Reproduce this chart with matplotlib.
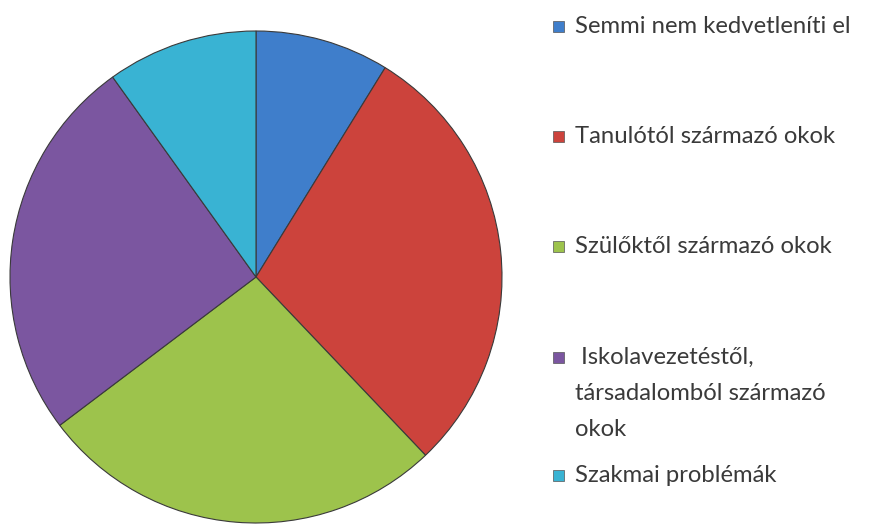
import matplotlib
matplotlib.use("Agg")
import matplotlib.pyplot as plt
from matplotlib.patches import Rectangle

categories = [
    "Semmi nem kedvetleníti el",
    "Tanulótól származó okok",
    "Szülőktől származó okok",
    " Iskolavezetéstől,\ntársadalomból származó\nokok",
    "Szakmai problémák",
]
values = [8.8, 29.1, 26.8, 25.4, 9.9]
colors = ["#3F7ECB", "#CC433C", "#9DC34C", "#7B56A0", "#39B3D3"]

fig = plt.figure(figsize=(8.8, 5.29), dpi=100)
fig.patch.set_facecolor("white")

W, H = 880, 529
cx, cy, r = 256, 277, 246
ax = fig.add_axes([(cx - r) / W, (H - cy - r) / H, 2 * r / W, 2 * r / H])
wedges, _ = ax.pie(values, colors=colors, startangle=90, counterclock=False,
                   radius=1.0,
                   wedgeprops=dict(edgecolor="#3a3a3a", linewidth=0.8))
ax.set_xlim(-1.0, 1.0)
ax.set_ylim(-1.0, 1.0)
ax.set_aspect("equal")
ax.axis("off")

# legend drawn manually (one entry per category)
text_x = 575
sq_x = 553
sq = 11
top_baselines = [33, 143, 253, 364, 482]
sq_centers = [26, 136, 246, 357, 475]
fs = 17.2
for lab, col, bl, sc in zip(categories, colors, top_baselines, sq_centers):
    fig.patches.append(Rectangle((sq_x / W, (H - sc - sq / 2) / H), sq / W, sq / H,
                                 transform=fig.transFigure, facecolor=col,
                                 edgecolor="#555555", linewidth=0.5))
    for i, line in enumerate(lab.split("\n")):
        fig.text(text_x / W, (H - bl - i * 36) / H, line, fontsize=fs, family="Lato",
                 color="#3a3a3a", ha="left", va="baseline")

fig.savefig("out.png", dpi=100)
